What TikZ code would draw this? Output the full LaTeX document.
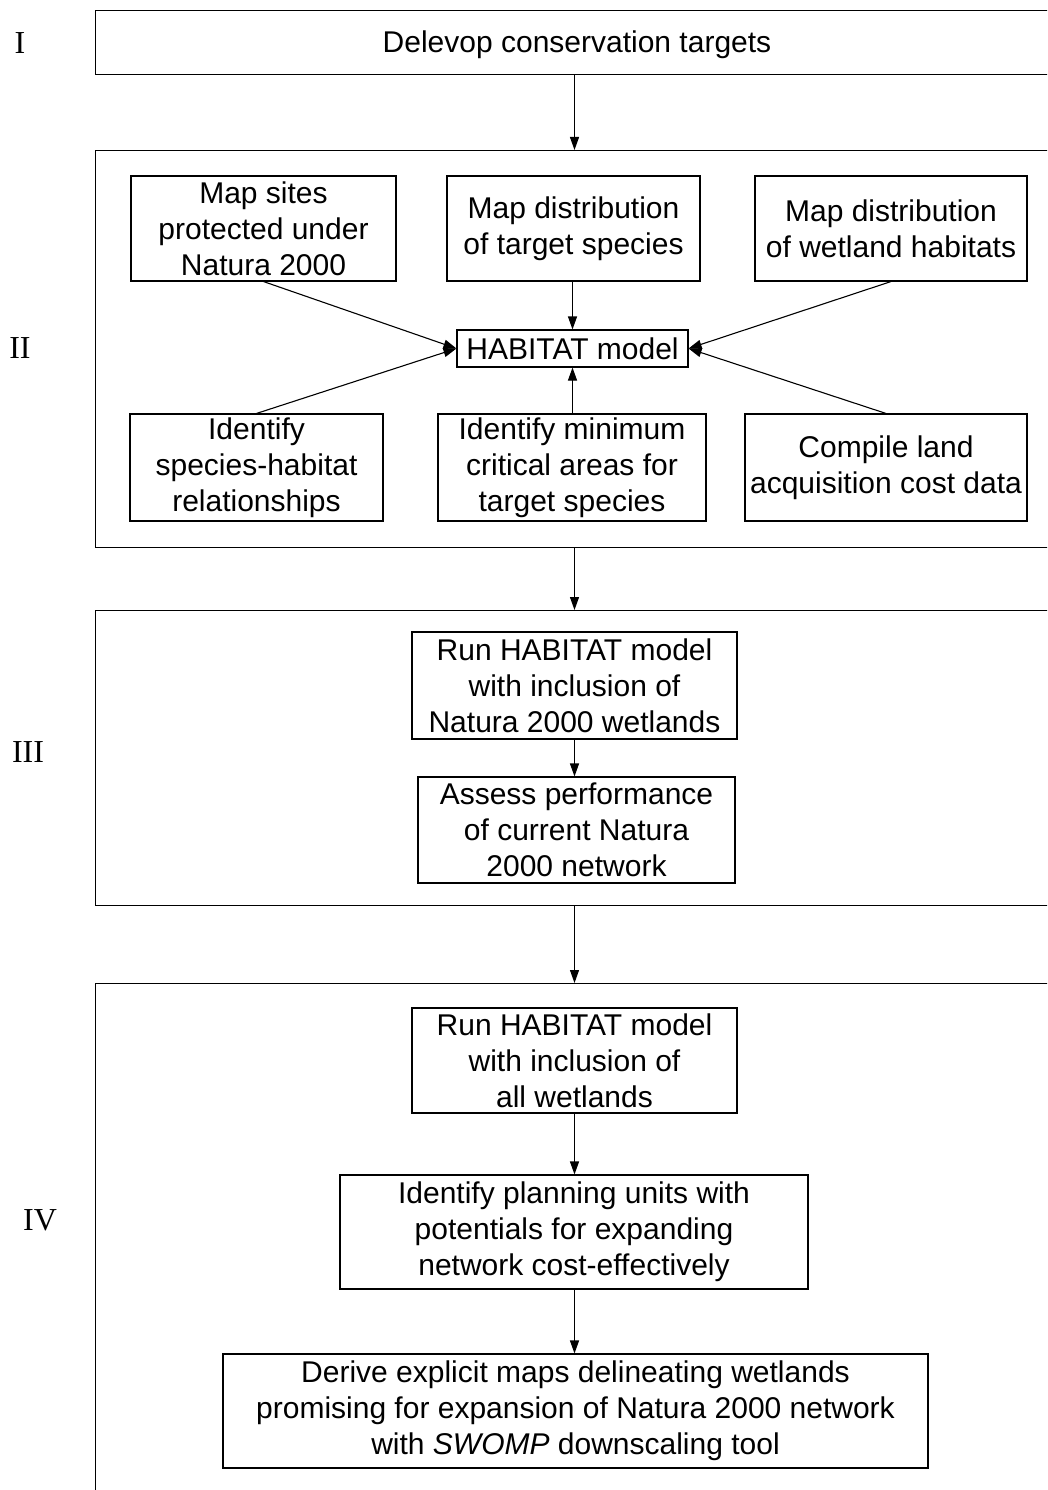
\documentclass[tikz,border=0pt]{standalone}
\usepackage{fontspec}
\setmainfont{Liberation Sans}
\newfontfamily\numfont{Liberation Serif}
\usetikzlibrary{arrows.meta}

\begin{document}
\begin{tikzpicture}[x=1pt,y=-1pt,
  stage/.style={draw,line width=1.3pt,anchor=north west,inner sep=0pt},
  task/.style={draw,line width=1.1pt,align=center,inner sep=0pt,
    font=\fontsize{30}{36}\selectfont},
  flow/.style={-{Triangle[length=13pt,width=9pt]},line width=1.1pt},
  roman/.style={font=\numfont\fontsize{32}{36}\selectfont}]
\useasboundingbox (0,0) rectangle (1047,1490);
\clip (0,0) rectangle (1047,1490);

% stages
\node (stageI) [stage,minimum width=965pt,minimum height=64pt] at (95,10) {};
\node (stageII) [stage,minimum width=965pt,minimum height=397pt] at (95,150) {};
\node (stageIII) [stage,minimum width=965pt,minimum height=295pt] at (95,610) {};
\node (stageIV) [stage,minimum width=965pt,minimum height=540pt] at (95,983) {};

\node (labI) [roman] at (20,43) {I};
\node (labII) [roman] at (20,348) {II};
\node (labIII) [roman] at (28,752) {III};
\node (labIV) [roman] at (40,1220) {IV};

% I
\node (targets) [font=\fontsize{30}{36}\selectfont] at (577,45) {Delevop conservation targets};

% II
\node (mapsites) [task,minimum width=265pt,minimum height=105pt] at (263.5,228.5)
  {Map sites\\protected under\\Natura 2000};
\node (mapspecies) [task,minimum width=253pt,minimum height=105pt] at (573.5,228.5)
  {Map distribution\\of target species};
\node (mapwetland) [task,minimum width=272pt,minimum height=105pt] at (891,228.5)
  {Map distribution\\of wetland habitats};
\node (habitat) [task,minimum width=231pt,minimum height=37pt] at (572.5,348.5)
  {HABITAT model};
\node (relations) [task,minimum width=253pt,minimum height=107pt] at (256.5,467.5)
  {Identify\\species-habitat\\relationships};
\node (minareas) [task,minimum width=268pt,minimum height=107pt] at (572,467.5)
  {Identify minimum\\critical areas for\\target species};
\node (costs) [task,minimum width=282pt,minimum height=107pt] at (886,467.5)
  {Compile land\\acquisition cost data};

% III
\node (runnatura) [task,minimum width=325pt,minimum height=107pt] at (574.5,685.5)
  {Run HABITAT model\\with inclusion of\\Natura 2000 wetlands};
\node (assess) [task,minimum width=317pt,minimum height=106pt] at (576.5,830)
  {Assess performance\\of current Natura\\2000 network};

% IV
\node (runall) [task,minimum width=325pt,minimum height=105pt] at (574.5,1060.5)
  {Run HABITAT model\\with inclusion of\\all wetlands};
\node (planning) [task,minimum width=468pt,minimum height=114pt] at (574,1232)
  {Identify planning units with\\potentials for expanding\\network cost-effectively};
\node (derive) [task,minimum width=705pt,minimum height=114pt] at (575.5,1411)
  {Derive explicit maps delineating wetlands\\promising for expansion of Natura 2000 network\\with \textit{SWOMP} downscaling tool};

\draw [flow] (stageI.south -| runnatura) -- (stageII.north -| runnatura);
\draw [flow] (mapsites.south) -- (habitat.west);
\draw [flow] (mapspecies.south -| habitat) -- (habitat.north);
\draw [flow] (mapwetland.south) -- (habitat.east);
\draw [flow] (relations.north) -- (habitat.west);
\draw [flow] (minareas.north -| habitat) -- (habitat.south);
\draw [flow] (costs.north) -- (habitat.east);
\draw [flow] (stageII.south -| runnatura) -- (stageIII.north -| runnatura);
\draw [flow] (runnatura) -- (assess.north -| runnatura);
\draw [flow] (stageIII.south -| runnatura) -- (stageIV.north -| runnatura);
\draw [flow] (runall) -- (planning.north -| runall);
\draw [flow] (planning.south -| runall) -- (derive.north -| runall);
\end{tikzpicture}
\end{document}
